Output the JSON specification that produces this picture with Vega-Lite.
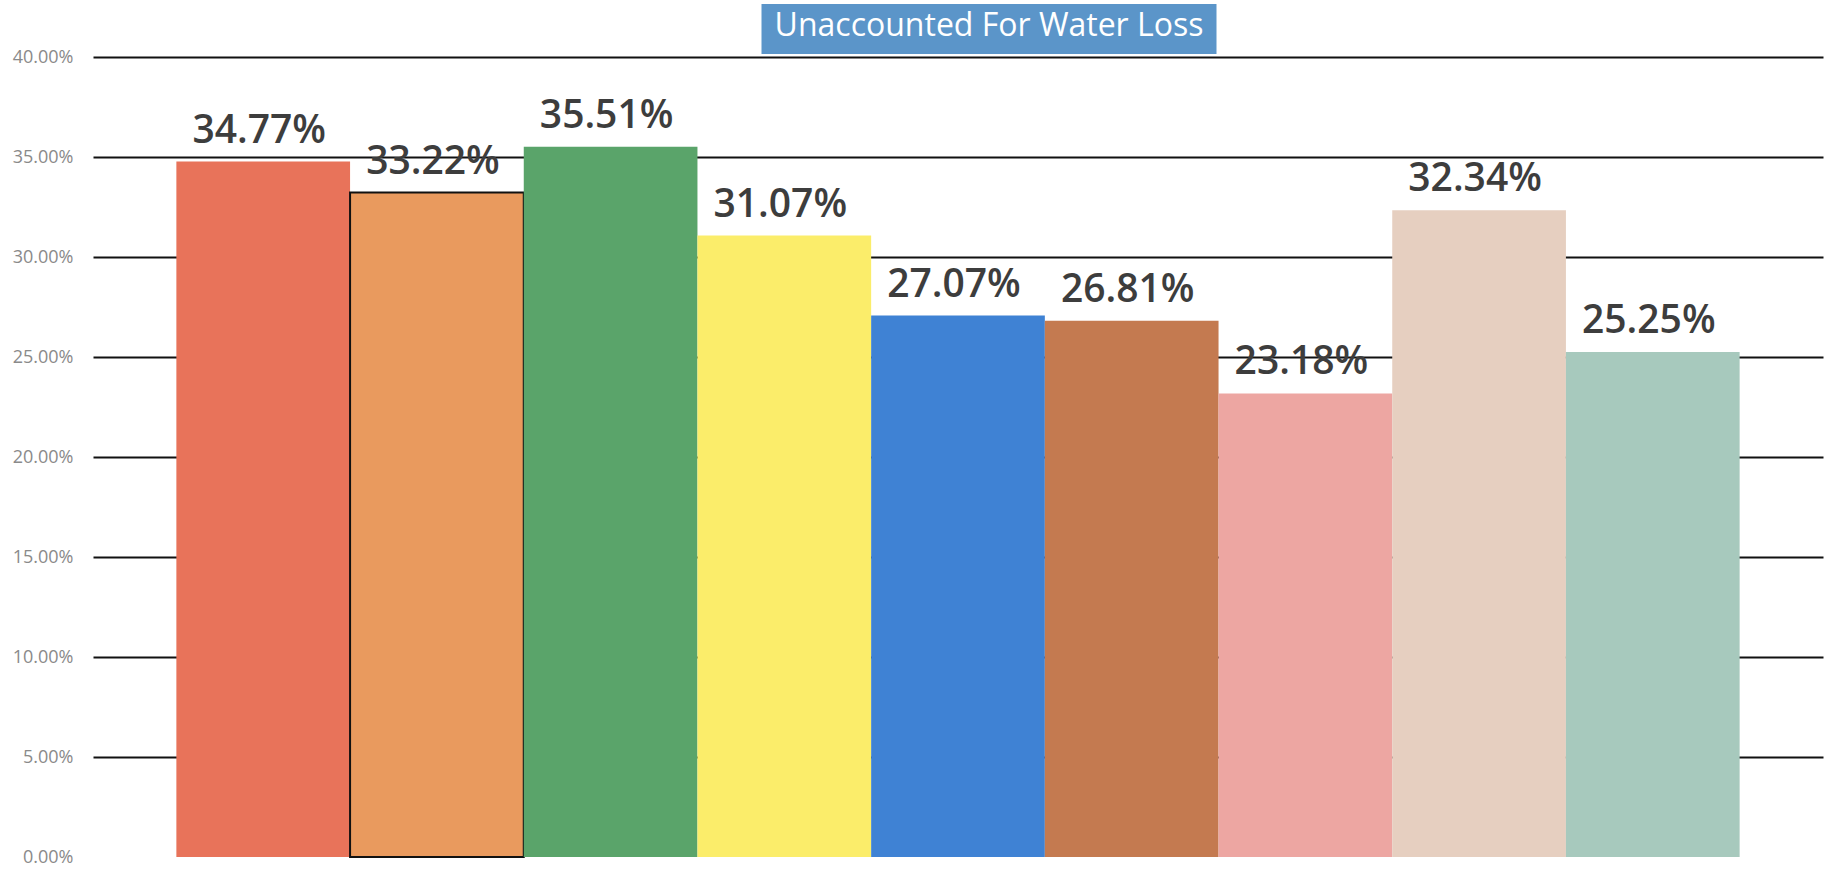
{
  "$schema": "https://vega.github.io/schema/vega-lite/v6.json",
  "autosize": {"type": "none"},
  "padding": {"left": 93, "top": 3, "right": 11, "bottom": 16},
  "width": 1730,
  "height": 854,
  "background": "white",
  "config": {"view": {"stroke": null}},
  "datasets": {
    "loss": [
      {"item": "1", "loss": 0.3477},
      {"item": "2", "loss": 0.3322},
      {"item": "3", "loss": 0.3551},
      {"item": "4", "loss": 0.3107},
      {"item": "5", "loss": 0.2707},
      {"item": "6", "loss": 0.2681},
      {"item": "7", "loss": 0.2318},
      {"item": "8", "loss": 0.3234},
      {"item": "9", "loss": 0.2525}
    ],
    "heading": [{"title": "Unaccounted For Water Loss"}]
  },
  "layer": [
    {
      "data": {"name": "loss"},
      "mark": {"type": "bar"},
      "encoding": {
        "x": {
          "field": "item", "type": "nominal", "sort": null,
          "scale": {"paddingInner": 0, "paddingOuter": 0.48},
          "axis": null
        },
        "y": {
          "field": "loss", "type": "quantitative",
          "scale": {"domain": [0, 0.427], "nice": false, "zero": true},
          "axis": {
            "values": [0, 0.05, 0.1, 0.15, 0.2, 0.25, 0.3, 0.35, 0.4],
            "format": ".2%",
            "title": null,
            "domain": false,
            "ticks": false,
            "labelPadding": 20,
            "labelFont": "Open Sans",
            "labelFontSize": 18,
            "labelColor": "#8a8a8a",
            "grid": true,
            "gridColor": "#111111",
            "gridWidth": 1.8,
            "gridOpacity": {"condition": {"test": "datum.value === 0", "value": 0}, "value": 1}
          }
        },
        "color": {
          "field": "item", "type": "nominal", "legend": null,
          "scale": {
            "domain": ["1", "2", "3", "4", "5", "6", "7", "8", "9"],
            "range": ["#e8735a", "#e99a5e", "#5aa46a", "#fbed6a", "#3f82d4", "#c47a50", "#eda6a2", "#e6cfc0", "#a7c9bd"]
          }
        },
        "stroke": {
          "condition": {"test": "datum.item === '2'", "value": "#111111"},
          "value": null
        },
        "strokeWidth": {
          "condition": {"test": "datum.item === '2'", "value": 2},
          "value": 0
        }
      }
    },
    {
      "data": {"name": "loss"},
      "mark": {
        "type": "text",
        "baseline": "alphabetic",
        "dy": -19,
        "dx": -4,
        "font": "Open Sans",
        "fontSize": 39,
        "fontWeight": 600,
        "color": "#3d3d3d"
      },
      "encoding": {
        "x": {"field": "item", "type": "nominal", "sort": null},
        "y": {"field": "loss", "type": "quantitative"},
        "text": {"field": "loss", "type": "quantitative", "format": ".2%"}
      }
    },
    {
      "data": {"name": "heading"},
      "mark": {"type": "bar", "width": 455, "color": "#5b95c9", "xOffset": 31},
      "encoding": {
        "x": {"datum": "5"},
        "y": {"datum": 0.4015},
        "y2": {"datum": 0.4265}
      }
    },
    {
      "data": {"name": "heading"},
      "mark": {
        "type": "text",
        "baseline": "alphabetic",
        "font": "Open Sans",
        "fontSize": 32,
        "fontWeight": 500,
        "color": "white",
        "xOffset": 31
      },
      "encoding": {
        "x": {"datum": "5"},
        "y": {"datum": 0.4105},
        "text": {"field": "title"}
      }
    }
  ]
}
